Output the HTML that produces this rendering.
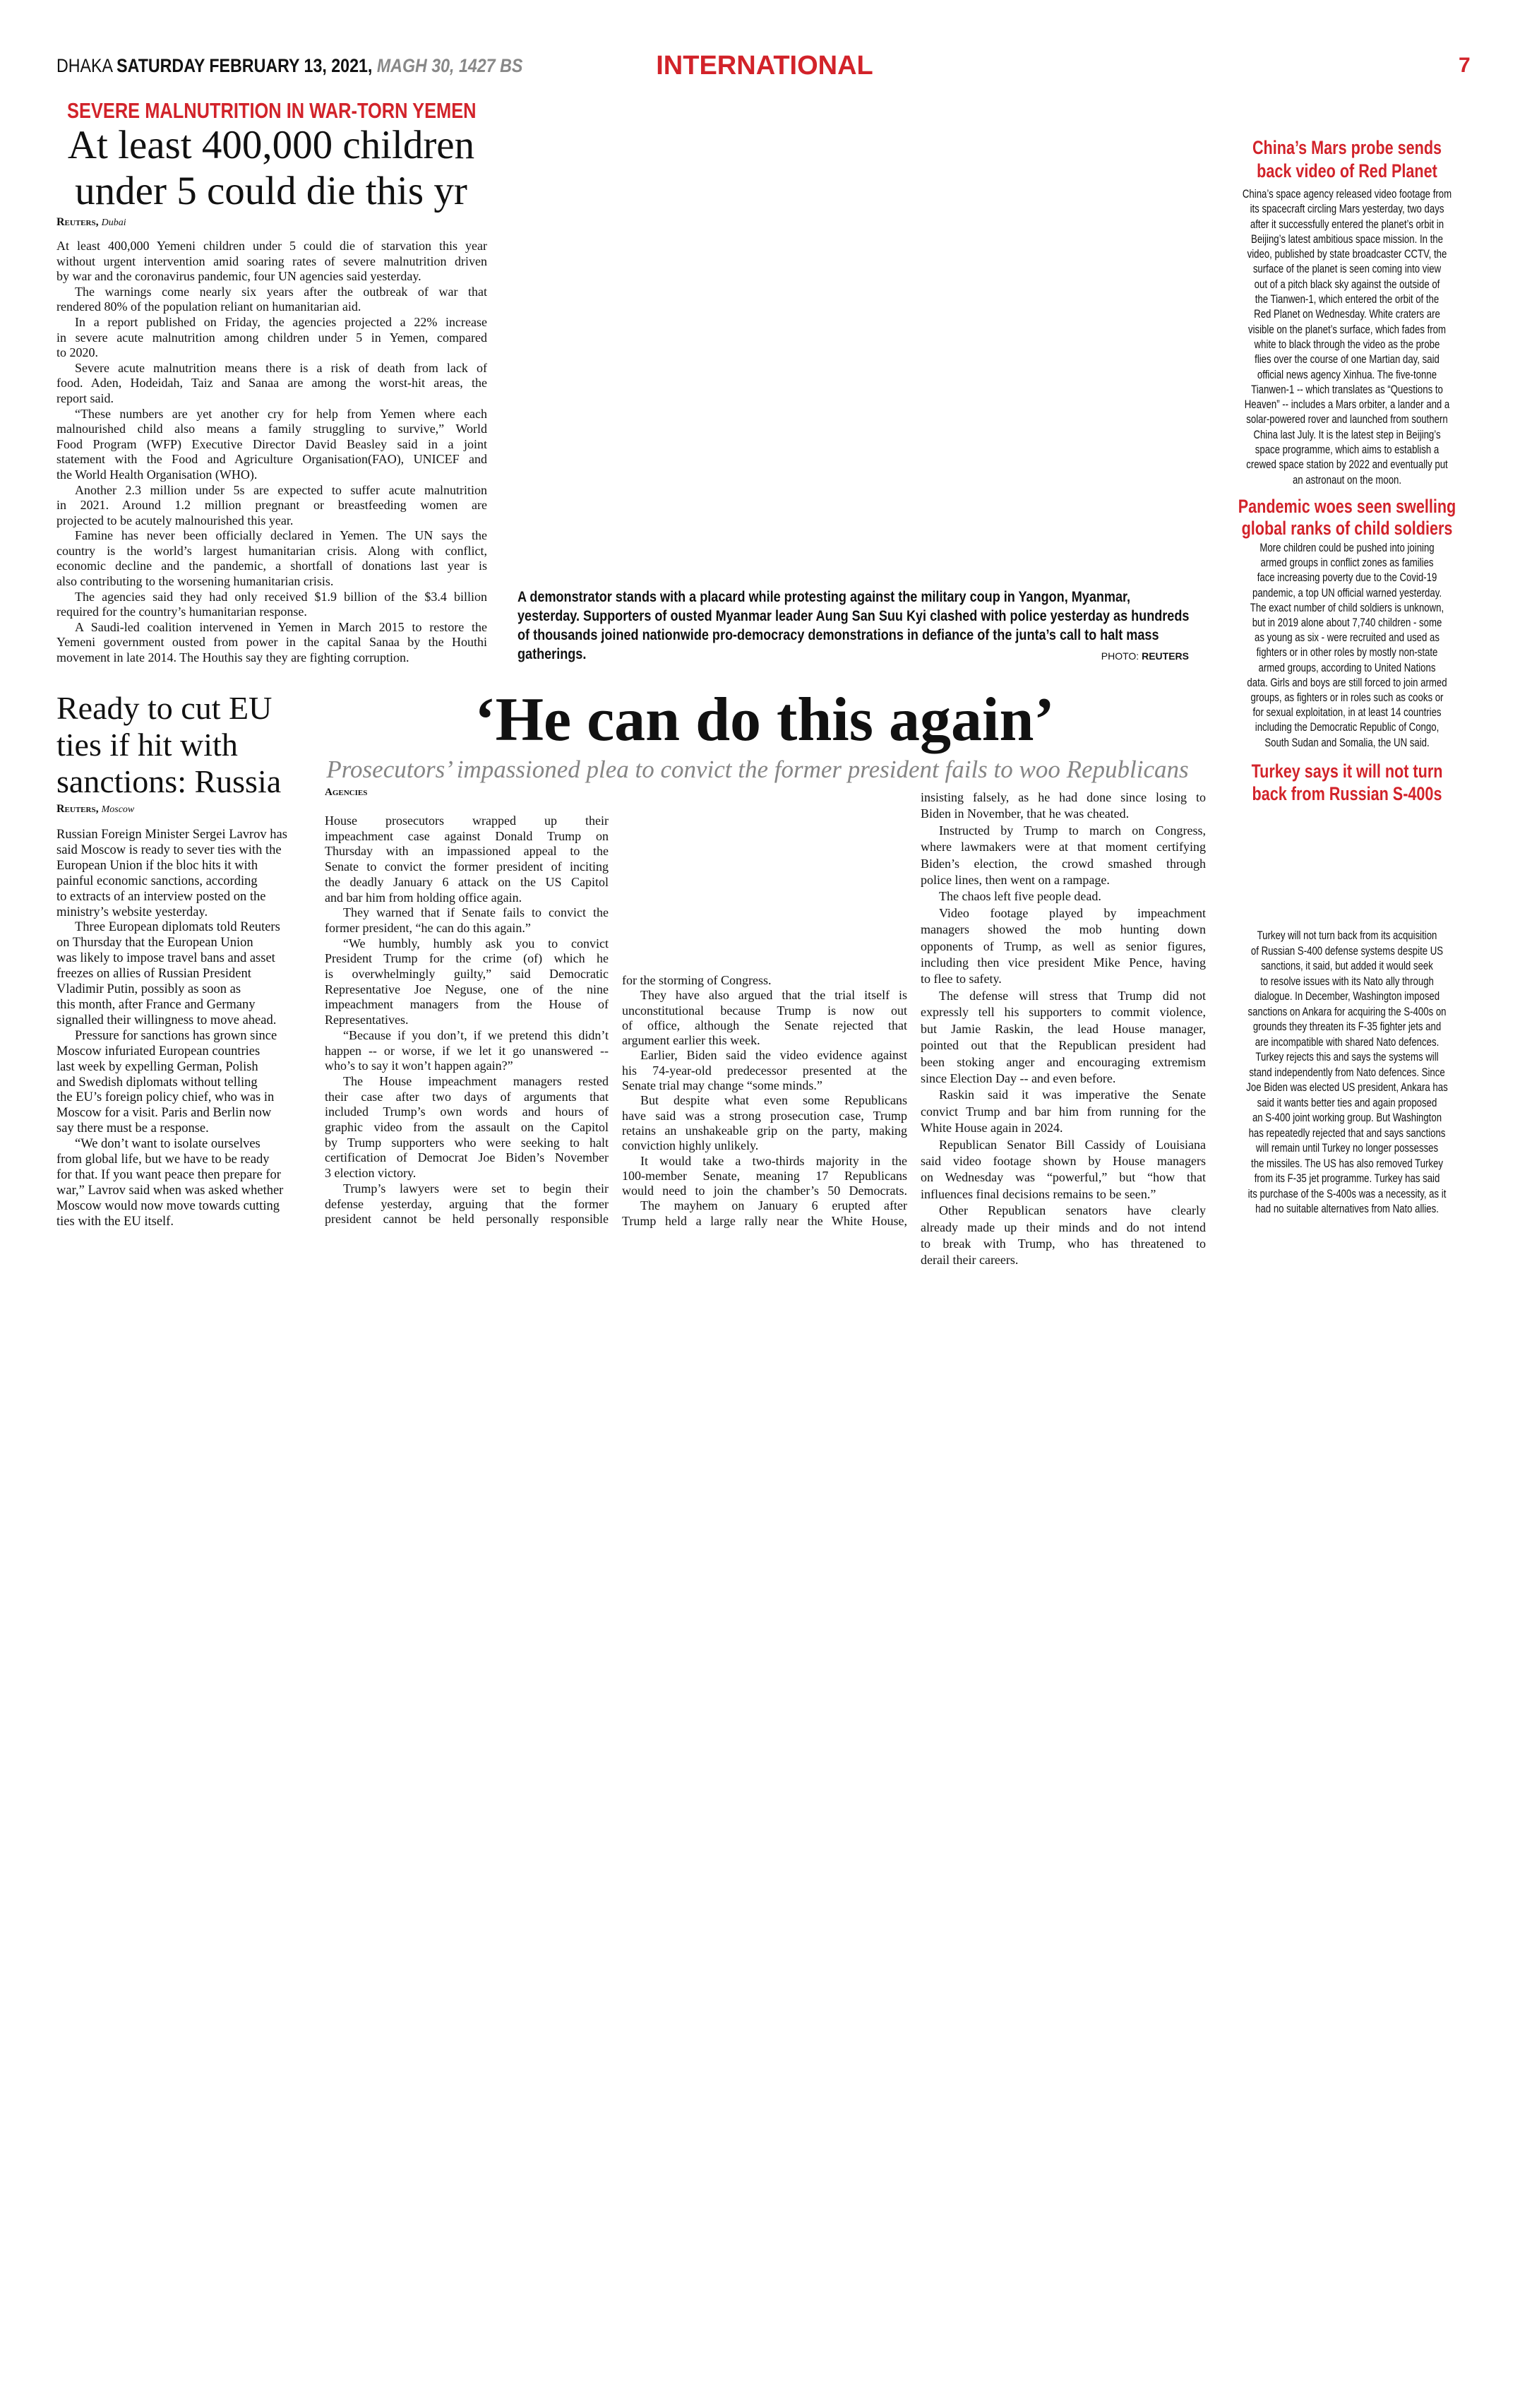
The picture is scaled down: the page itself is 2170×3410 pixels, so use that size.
<!DOCTYPE html>
<html><head><meta charset="utf-8">
<style>
*{margin:0;padding:0;box-sizing:border-box}
body{width:2170px;height:3410px;background:#fff;position:relative;overflow:hidden;color:#111}
.a{position:absolute}
.sf{font-family:"Liberation Serif",serif}
.ss{font-family:"Liberation Sans",sans-serif}
.nr{font-family:"Liberation Sans Narrow","Arial Narrow","Liberation Sans",sans-serif}
.red{color:#d2232a}
.col div{overflow:hidden;white-space:normal}
.j{text-align:justify;text-align-last:justify}
.e{text-align:left}
.i{padding-left:26px}
.ctr div{text-align:center;white-space:nowrap}
.sc{font-variant:small-caps;font-weight:bold}
.cd{transform-origin:left top}
</style></head><body>

<!-- header -->
<div class="a ss cd" style="left:80px;top:76px;font-size:27px;line-height:34px;white-space:nowrap;transform:scaleX(0.86)">DHAKA <b>SATURDAY FEBRUARY 13, 2021,</b> <b><i style="color:#888">MAGH 30, 1427 BS</i></b></div>
<div class="a ss red" style="left:907px;top:71px;width:352px;font-size:38px;font-weight:bold;line-height:44px;text-align:center;white-space:nowrap">INTERNATIONAL</div>
<div class="a ss red" style="left:2066px;top:76px;font-size:30px;font-weight:bold;line-height:34px">7</div>

<!-- Yemen -->
<div class="a ss red cd" style="left:95px;top:137px;font-size:31px;font-weight:bold;line-height:40px;white-space:nowrap;transform:scaleX(0.82)">SEVERE MALNUTRITION IN WAR-TORN YEMEN</div>
<div class="a sf" style="left:78px;top:173px;width:612px;font-size:57px;line-height:65px;text-align:center;white-space:nowrap">At least 400,000 children<br>under 5 could die this yr</div>
<div class="a sf" style="left:80px;top:304px;font-size:16px;line-height:22px"><span class="sc">Reuters,</span> <i style="font-size:14px">Dubai</i></div>

<div class="a sf col" style="left:80px;top:338px;width:610px;font-size:18px;line-height:21.6px">
<div class="j">At least 400,000 Yemeni children under 5 could die of starvation this year</div>
<div class="j">without urgent intervention amid soaring rates of severe malnutrition driven</div>
<div class="e">by war and the coronavirus pandemic, four UN agencies said yesterday.</div>
<div class="j i">The warnings come nearly six years after the outbreak of war that</div>
<div class="e">rendered 80% of the population reliant on humanitarian aid.</div>
<div class="j i">In a report published on Friday, the agencies projected a 22% increase</div>
<div class="j">in severe acute malnutrition among children under 5 in Yemen, compared</div>
<div class="e">to 2020.</div>
<div class="j i">Severe acute malnutrition means there is a risk of death from lack of</div>
<div class="j">food. Aden, Hodeidah, Taiz and Sanaa are among the worst-hit areas, the</div>
<div class="e">report said.</div>
<div class="j i">“These numbers are yet another cry for help from Yemen where each</div>
<div class="j">malnourished child also means a family struggling to survive,” World</div>
<div class="j">Food Program (WFP) Executive Director David Beasley said in a joint</div>
<div class="j">statement with the Food and Agriculture Organisation(FAO), UNICEF and</div>
<div class="e">the World Health Organisation (WHO).</div>
<div class="j i">Another 2.3 million under 5s are expected to suffer acute malnutrition</div>
<div class="j">in 2021. Around 1.2 million pregnant or breastfeeding women are</div>
<div class="e">projected to be acutely malnourished this year.</div>
<div class="j i">Famine has never been officially declared in Yemen. The UN says the</div>
<div class="j">country is the world’s largest humanitarian crisis. Along with conflict,</div>
<div class="j">economic decline and the pandemic, a shortfall of donations last year is</div>
<div class="e">also contributing to the worsening humanitarian crisis.</div>
<div class="j i">The agencies said they had only received $1.9 billion of the $3.4 billion</div>
<div class="e">required for the country’s humanitarian response.</div>
<div class="j i">A Saudi-led coalition intervened in Yemen in March 2015 to restore the</div>
<div class="j">Yemeni government ousted from power in the capital Sanaa by the Houthi</div>
<div class="e">movement in late 2014. The Houthis say they are fighting corruption.</div>
</div>

<!-- caption -->
<div class="a ss cd" style="left:733px;top:832px;font-size:21px;font-weight:bold;line-height:27px;white-space:nowrap;transform:scaleX(0.86)">A demonstrator stands with a placard while protesting against the military coup in Yangon, Myanmar,<br>yesterday. Supporters of ousted Myanmar leader Aung San Suu Kyi clashed with police yesterday as hundreds<br>of thousands joined nationwide pro-democracy demonstrations in defiance of the junta’s call to halt mass<br>gatherings.</div>
<div class="a ss" style="left:1480px;top:919px;width:204px;font-size:14px;line-height:20px;text-align:right;white-space:nowrap">PHOTO: <b>REUTERS</b></div>

<!-- Russia -->
<div class="a sf" style="left:80px;top:977px;font-size:46px;line-height:52px;white-space:nowrap">Ready to cut EU<br>ties if hit with<br>sanctions: Russia</div>
<div class="a sf" style="left:80px;top:1135px;font-size:16px;line-height:22px"><span class="sc">Reuters,</span> <i style="font-size:14px">Moscow</i></div>
<div class="a sf col" style="left:80px;top:1172px;width:370px;font-size:18.5px;line-height:21.9px;white-space:nowrap">
<div>Russian Foreign Minister Sergei Lavrov has</div>
<div>said Moscow is ready to sever ties with the</div>
<div>European Union if the bloc hits it with</div>
<div>painful economic sanctions, according</div>
<div>to extracts of an interview posted on the</div>
<div>ministry’s website yesterday.</div>
<div class="i">Three European diplomats told Reuters</div>
<div>on Thursday that the European Union</div>
<div>was likely to impose travel bans and asset</div>
<div>freezes on allies of Russian President</div>
<div>Vladimir Putin, possibly as soon as</div>
<div>this month, after France and Germany</div>
<div>signalled their willingness to move ahead.</div>
<div class="i">Pressure for sanctions has grown since</div>
<div>Moscow infuriated European countries</div>
<div>last week by expelling German, Polish</div>
<div>and Swedish diplomats without telling</div>
<div>the EU’s foreign policy chief, who was in</div>
<div>Moscow for a visit. Paris and Berlin now</div>
<div>say there must be a response.</div>
<div class="i">“We don’t want to isolate ourselves</div>
<div>from global life, but we have to be ready</div>
<div>for that. If you want peace then prepare for</div>
<div>war,” Lavrov said when was asked whether</div>
<div>Moscow would now move towards cutting</div>
<div>ties with the EU itself.</div>
</div>

<!-- main story -->
<div class="a sf" style="left:560px;top:968px;width:1046px;font-size:88px;font-weight:bold;line-height:104px;text-align:center;white-space:nowrap">‘He can do this again’</div>
<div class="a sf" style="left:458px;top:1068px;width:1230px;font-size:35px;font-style:italic;color:#858585;line-height:44px;text-align:center;white-space:nowrap">Prosecutors’ impassioned plea to convict the former president fails to woo Republicans</div>
<div class="a sf sc" style="left:460px;top:1112px;font-size:15px;line-height:20px">Agencies</div>

<div class="a sf col" style="left:460px;top:1152px;width:402px;font-size:18px;line-height:21.7px">
<div class="j">House prosecutors wrapped up their</div>
<div class="j">impeachment case against Donald Trump on</div>
<div class="j">Thursday with an impassioned appeal to the</div>
<div class="j">Senate to convict the former president of inciting</div>
<div class="j">the deadly January 6 attack on the US Capitol</div>
<div class="e">and bar him from holding office again.</div>
<div class="j i">They warned that if Senate fails to convict the</div>
<div class="e">former president, “he can do this again.”</div>
<div class="j i">“We humbly, humbly ask you to convict</div>
<div class="j">President Trump for the crime (of) which he</div>
<div class="j">is overwhelmingly guilty,” said Democratic</div>
<div class="j">Representative Joe Neguse, one of the nine</div>
<div class="j">impeachment managers from the House of</div>
<div class="e">Representatives.</div>
<div class="j i">“Because if you don’t, if we pretend this didn’t</div>
<div class="j">happen -- or worse, if we let it go unanswered --</div>
<div class="e">who’s to say it won’t happen again?”</div>
<div class="j i">The House impeachment managers rested</div>
<div class="j">their case after two days of arguments that</div>
<div class="j">included Trump’s own words and hours of</div>
<div class="j">graphic video from the assault on the Capitol</div>
<div class="j">by Trump supporters who were seeking to halt</div>
<div class="j">certification of Democrat Joe Biden’s November</div>
<div class="e">3 election victory.</div>
<div class="j i">Trump’s lawyers were set to begin their</div>
<div class="j">defense yesterday, arguing that the former</div>
<div class="j">president cannot be held personally responsible</div>
</div>

<div class="a sf col" style="left:881px;top:1378px;width:404px;font-size:18px;line-height:21.3px">
<div class="e">for the storming of Congress.</div>
<div class="j i">They have also argued that the trial itself is</div>
<div class="j">unconstitutional because Trump is now out</div>
<div class="j">of office, although the Senate rejected that</div>
<div class="e">argument earlier this week.</div>
<div class="j i">Earlier, Biden said the video evidence against</div>
<div class="j">his 74-year-old predecessor presented at the</div>
<div class="e">Senate trial may change “some minds.”</div>
<div class="j i">But despite what even some Republicans</div>
<div class="j">have said was a strong prosecution case, Trump</div>
<div class="j">retains an unshakeable grip on the party, making</div>
<div class="e">conviction highly unlikely.</div>
<div class="j i">It would take a two-thirds majority in the</div>
<div class="j">100-member Senate, meaning 17 Republicans</div>
<div class="j">would need to join the chamber’s 50 Democrats.</div>
<div class="j i">The mayhem on January 6 erupted after</div>
<div class="j">Trump held a large rally near the White House,</div>
</div>

<div class="a sf col" style="left:1304px;top:1118px;width:404px;font-size:18px;line-height:23.4px">
<div class="j">insisting falsely, as he had done since losing to</div>
<div class="e">Biden in November, that he was cheated.</div>
<div class="j i">Instructed by Trump to march on Congress,</div>
<div class="j">where lawmakers were at that moment certifying</div>
<div class="j">Biden’s election, the crowd smashed through</div>
<div class="e">police lines, then went on a rampage.</div>
<div class="e i">The chaos left five people dead.</div>
<div class="j i">Video footage played by impeachment</div>
<div class="j">managers showed the mob hunting down</div>
<div class="j">opponents of Trump, as well as senior figures,</div>
<div class="j">including then vice president Mike Pence, having</div>
<div class="e">to flee to safety.</div>
<div class="j i">The defense will stress that Trump did not</div>
<div class="j">expressly tell his supporters to commit violence,</div>
<div class="j">but Jamie Raskin, the lead House manager,</div>
<div class="j">pointed out that the Republican president had</div>
<div class="j">been stoking anger and encouraging extremism</div>
<div class="e">since Election Day -- and even before.</div>
<div class="j i">Raskin said it was imperative the Senate</div>
<div class="j">convict Trump and bar him from running for the</div>
<div class="e">White House again in 2024.</div>
<div class="j i">Republican Senator Bill Cassidy of Louisiana</div>
<div class="j">said video footage shown by House managers</div>
<div class="j">on Wednesday was “powerful,” but “how that</div>
<div class="e">influences final decisions remains to be seen.”</div>
<div class="j i">Other Republican senators have clearly</div>
<div class="j">already made up their minds and do not intend</div>
<div class="j">to break with Trump, who has threatened to</div>
<div class="e">derail their careers.</div>
</div>

<!-- right column -->
<div class="a ss red ctr cd" style="left:1748px;top:193px;width:400px;font-size:27px;font-weight:bold;line-height:33px;transform:scaleX(0.8)"><div>China’s Mars probe sends</div><div>back video of Red Planet</div></div>
<div class="a ss ctr cd" style="left:1748px;top:265px;width:400px;font-size:16.5px;line-height:21.3px;transform:scaleX(0.8)">
<div>China’s space agency released video footage from</div>
<div>its spacecraft circling Mars yesterday, two days</div>
<div>after it successfully entered the planet’s orbit in</div>
<div>Beijing’s latest ambitious space mission. In the</div>
<div>video, published by state broadcaster CCTV, the</div>
<div>surface of the planet is seen coming into view</div>
<div>out of a pitch black sky against the outside of</div>
<div>the Tianwen-1, which entered the orbit of the</div>
<div>Red Planet on Wednesday. White craters are</div>
<div>visible on the planet’s surface, which fades from</div>
<div>white to black through the video as the probe</div>
<div>flies over the course of one Martian day, said</div>
<div>official news agency Xinhua. The five-tonne</div>
<div>Tianwen-1 -- which translates as “Questions to</div>
<div>Heaven” -- includes a Mars orbiter, a lander and a</div>
<div>solar-powered rover and launched from southern</div>
<div>China last July. It is the latest step in Beijing’s</div>
<div>space programme, which aims to establish a</div>
<div>crewed space station by 2022 and eventually put</div>
<div>an astronaut on the moon.</div>
</div>

<div class="a ss red ctr cd" style="left:1748px;top:702px;width:400px;font-size:27px;font-weight:bold;line-height:31px;transform:scaleX(0.8)"><div>Pandemic woes seen swelling</div><div>global ranks of child soldiers</div></div>
<div class="a ss ctr cd" style="left:1748px;top:766px;width:400px;font-size:16.5px;line-height:21.2px;transform:scaleX(0.8)">
<div>More children could be pushed into joining</div>
<div>armed groups in conflict zones as families</div>
<div>face increasing poverty due to the Covid-19</div>
<div>pandemic, a top UN official warned yesterday.</div>
<div>The exact number of child soldiers is unknown,</div>
<div>but in 2019 alone about 7,740 children - some</div>
<div>as young as six - were recruited and used as</div>
<div>fighters or in other roles by mostly non-state</div>
<div>armed groups, according to United Nations</div>
<div>data. Girls and boys are still forced to join armed</div>
<div>groups, as fighters or in roles such as cooks or</div>
<div>for sexual exploitation, in at least 14 countries</div>
<div>including the Democratic Republic of Congo,</div>
<div>South Sudan and Somalia, the UN said.</div>
</div>

<div class="a ss red ctr cd" style="left:1748px;top:1076px;width:400px;font-size:27px;font-weight:bold;line-height:32px;transform:scaleX(0.8)"><div>Turkey says it will not turn</div><div>back from Russian S-400s</div></div>
<div class="a ss ctr cd" style="left:1748px;top:1315px;width:400px;font-size:16.5px;line-height:21.5px;transform:scaleX(0.8)">
<div>Turkey will not turn back from its acquisition</div>
<div>of Russian S-400 defense systems despite US</div>
<div>sanctions, it said, but added it would seek</div>
<div>to resolve issues with its Nato ally through</div>
<div>dialogue. In December, Washington imposed</div>
<div>sanctions on Ankara for acquiring the S-400s on</div>
<div>grounds they threaten its F-35 fighter jets and</div>
<div>are incompatible with shared Nato defences.</div>
<div>Turkey rejects this and says the systems will</div>
<div>stand independently from Nato defences. Since</div>
<div>Joe Biden was elected US president, Ankara has</div>
<div>said it wants better ties and again proposed</div>
<div>an S-400 joint working group. But Washington</div>
<div>has repeatedly rejected that and says sanctions</div>
<div>will remain until Turkey no longer possesses</div>
<div>the missiles. The US has also removed Turkey</div>
<div>from its F-35 jet programme. Turkey has said</div>
<div>its purchase of the S-400s was a necessity, as it</div>
<div>had no suitable alternatives from Nato allies.</div>
</div>

</body></html>
